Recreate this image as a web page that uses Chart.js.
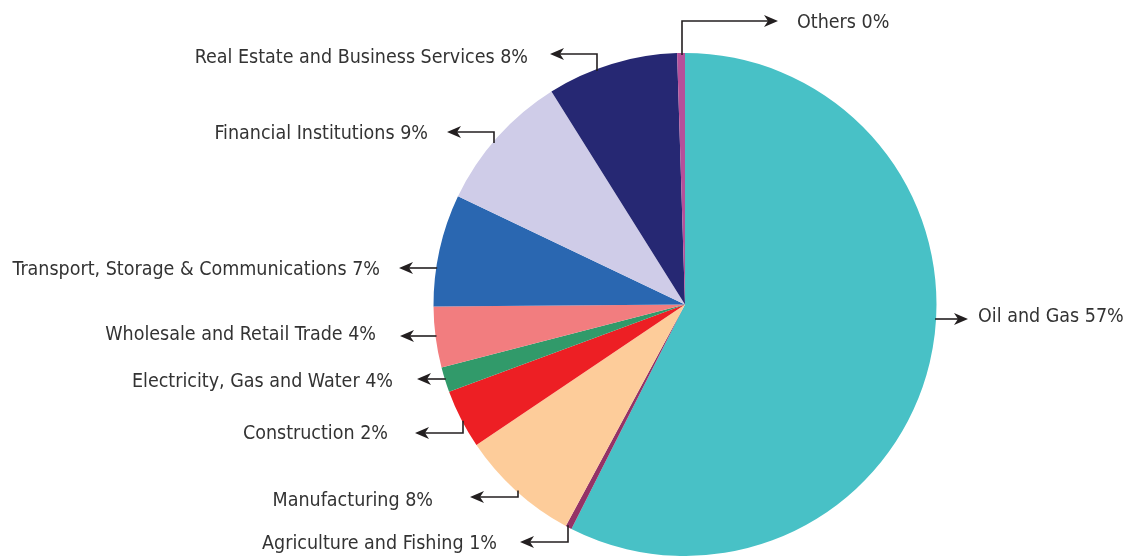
<!DOCTYPE html>
<html>
<head>
<meta charset="utf-8">
<script src="https://cdn.jsdelivr.net/npm/chart.js@4/dist/chart.umd.min.js"></script>
<style>
  body { margin: 0; background: #fff; }
  canvas { display: block; }
</style>
</head>
<body>
<canvas id="pieChart" width="1132" height="556"></canvas>
<script>
// slices clockwise from 12 o'clock
const sectors = [
  'Oil and Gas', 'Agriculture and Fishing', 'Manufacturing', 'Construction',
  'Electricity, Gas and Water', 'Wholesale and Retail Trade',
  'Transport, Storage & Communications', 'Financial Institutions',
  'Real Estate and Business Services', 'Others'
];
const shares = [57.4, 0.4, 7.7, 3.8, 1.6, 3.9, 7.2, 9.0, 8.4, 0.5];
const shareLabels = ['57%', '1%', '8%', '2%', '4%', '4%', '7%', '9%', '8%', '0%'];
const colors = ['#48c1c6', '#953266', '#fdcc9a', '#ed1f24', '#319a6a', '#f27d7f', '#2a67b1', '#cfcce8', '#262873', '#b5509a'];

// where each callout goes (dir: 1 = right, -1 = left; elbowX = vertical drop from the pie)
const callouts = [
  { dir: 1,  y: 319, tipX: 968, textX: 978, textY: 315 },
  { dir: -1, y: 542, elbowX: 568, tipX: 520, textX: 497, textY: 542 },
  { dir: -1, y: 497, elbowX: 518, tipX: 470, textX: 433, textY: 499 },
  { dir: -1, y: 433, elbowX: 463, tipX: 415, textX: 388, textY: 432 },
  { dir: -1, y: 379, tipX: 417, textX: 393, textY: 380 },
  { dir: -1, y: 336, tipX: 400, textX: 376, textY: 333 },
  { dir: -1, y: 268, tipX: 399, textX: 380, textY: 268 },
  { dir: -1, y: 132, elbowX: 494, tipX: 447, textX: 428, textY: 132 },
  { dir: -1, y: 54,  elbowX: 597, tipX: 550, textX: 528, textY: 56 },
  { dir: 1,  y: 21,  elbowX: 682, tipX: 778, textX: 797, textY: 21 }
];

const calloutPlugin = {
  id: 'callouts',
  afterDraw(chart) {
    const ctx = chart.ctx;
    const arc = chart.getDatasetMeta(0).data[0];
    const cx = arc.x, cy = arc.y, r = arc.outerRadius;
    ctx.save();
    ctx.lineWidth = 1.6;
    callouts.forEach((c, i) => {
      ctx.strokeStyle = '#231f20';
      ctx.fillStyle = '#231f20';
      ctx.beginPath();
      if (c.elbowX !== undefined) {
        // vertical leg starts on the rim
        const dx = c.elbowX - cx;
        const h = Math.sqrt(Math.max(r * r - dx * dx, 0));
        const sy = c.y < cy ? cy - h + 2 : cy + h - 2;
        ctx.moveTo(c.elbowX, sy);
        ctx.lineTo(c.elbowX, c.y);
      } else {
        const dy = c.y - cy;
        const w = Math.sqrt(Math.max(r * r - dy * dy, 0));
        ctx.moveTo(c.dir > 0 ? cx + w - 1 : cx - w + 1, c.y);
      }
      ctx.lineTo(c.tipX - c.dir * 9, c.y);
      ctx.stroke();
      // arrow head
      ctx.beginPath();
      ctx.moveTo(c.tipX, c.y);
      ctx.lineTo(c.tipX - c.dir * 14, c.y - 6);
      ctx.lineTo(c.tipX - c.dir * 10, c.y);
      ctx.lineTo(c.tipX - c.dir * 14, c.y + 6);
      ctx.closePath();
      ctx.fill();

      ctx.font = '19.5px "DejaVu Sans Condensed", "Liberation Sans", sans-serif';
      ctx.fillStyle = '#333333';
      ctx.textAlign = c.dir > 0 ? 'left' : 'right';
      ctx.textBaseline = 'alphabetic';
      ctx.fillText(sectors[i] + ' ' + shareLabels[i], c.textX, c.textY + 7);
    });
    ctx.restore();
  }
};

new Chart(document.getElementById('pieChart'), {
  type: 'pie',
  data: {
    labels: sectors,
    datasets: [{
      data: shares,
      backgroundColor: colors,
      borderWidth: 0
    }]
  },
  options: {
    responsive: false,
    animation: false,
    layout: { padding: { left: 433, right: 195, top: 53, bottom: 0 } },
    plugins: {
      legend: { display: false },
      tooltip: { enabled: false }
    }
  },
  plugins: [calloutPlugin]
});
</script>
</body>
</html>
